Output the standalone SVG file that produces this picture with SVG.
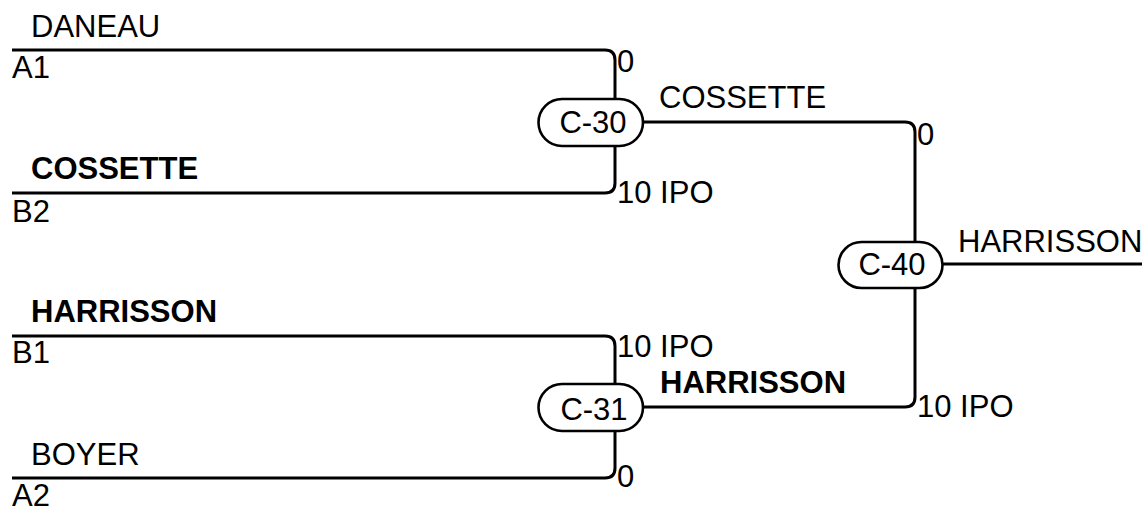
<svg xmlns="http://www.w3.org/2000/svg" width="1148" height="508" viewBox="0 0 1148 508">
<style>
.t{font-family:"Liberation Sans",Arial,sans-serif;font-size:31px;fill:#000}
.b{font-weight:bold}
.c{text-anchor:middle}
.ln{fill:none;stroke:#000;stroke-width:3}
.pill{fill:#fff;stroke:#000;stroke-width:2.6}
</style>
<rect width="1148" height="508" fill="#fff"/>
<g id="connectors">
<path class="ln" d="M12,50 H605 Q615,50 615,60 V99"/>
<path class="ln" d="M12,193 H605 Q615,193 615,183 V146"/>
<path class="ln" d="M643,122 H905 Q915,122 915,132 V242"/>
<path class="ln" d="M12,336 H605 Q615,336 615,346 V384"/>
<path class="ln" d="M12,478 H605 Q615,478 615,468 V431"/>
<path class="ln" d="M643,407 H905 Q915,407 915,397 V288"/>
<path class="ln" d="M942,264 H1142"/>
</g>
<g id="seed-A1"><text class="t" x="31" y="37">DANEAU</text><text class="t" x="12" y="78">A1</text></g>
<g id="seed-B2"><text class="t b" x="31" y="179">COSSETTE</text><text class="t" x="12" y="222">B2</text></g>
<g id="seed-B1"><text class="t b" x="31" y="322">HARRISSON</text><text class="t" x="12" y="363">B1</text></g>
<g id="seed-A2"><text class="t" x="31" y="465">BOYER</text><text class="t" x="12" y="506">A2</text></g>
<g id="C-30">
<rect class="pill" x="538.5" y="99" width="104.5" height="47" rx="23.5"/>
<text class="t c" x="593" y="133">C-30</text>
<text class="t" x="617" y="72">0</text>
<text class="t" x="617" y="203">10 IPO</text>
<text class="t" x="659" y="108">COSSETTE</text>
</g>
<g id="C-31">
<rect class="pill" x="538.5" y="384" width="104.5" height="47" rx="23.5"/>
<text class="t c" x="594" y="420">C-31</text>
<text class="t" x="617" y="357">10 IPO</text>
<text class="t" x="617" y="487">0</text>
<text class="t b" x="660" y="393">HARRISSON</text>
</g>
<g id="C-40">
<rect class="pill" x="838.5" y="242" width="104" height="46" rx="23"/>
<text class="t c" x="892" y="275">C-40</text>
<text class="t" x="917" y="145">0</text>
<text class="t" x="917" y="417">10 IPO</text>
<text class="t" x="958" y="252">HARRISSON</text>
</g>
</svg>
